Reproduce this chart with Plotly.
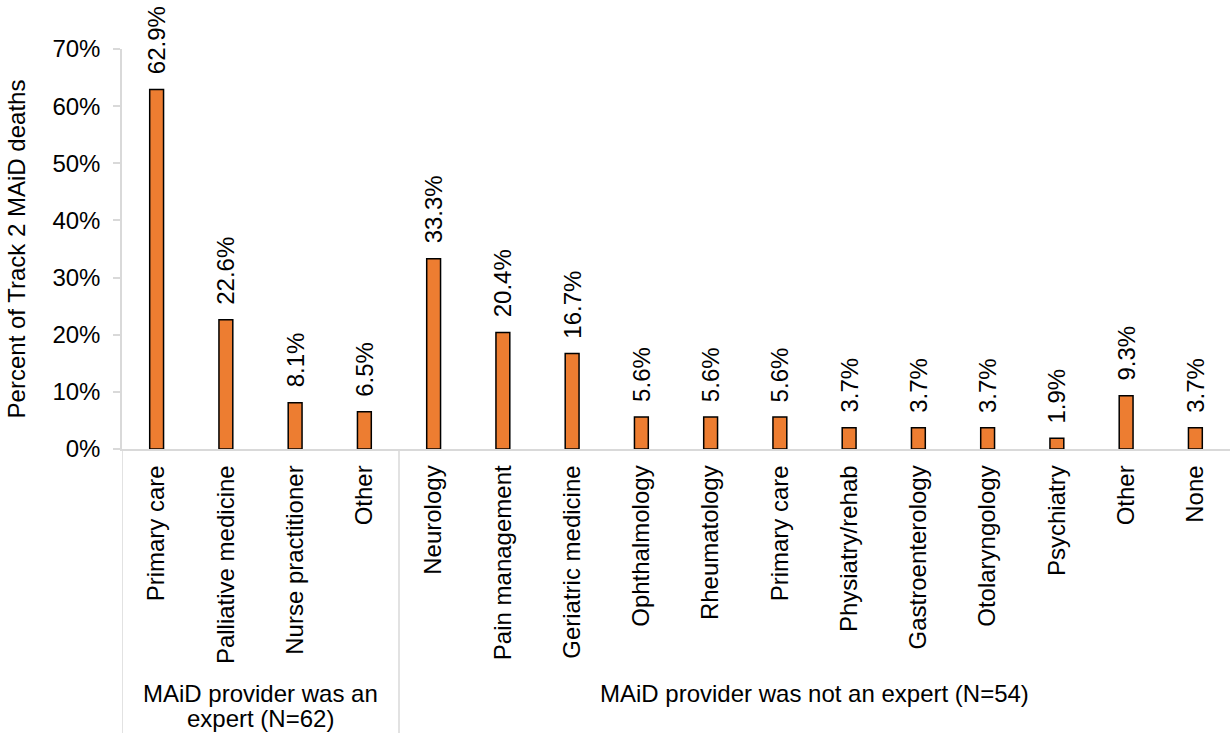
import plotly.graph_objects as go

categories = ["Primary care", "Palliative medicine", "Nurse practitioner", "Other",
              "Neurology", "Pain management", "Geriatric medicine", "Ophthalmology",
              "Rheumatology", "Primary care", "Physiatry/rehab", "Gastroenterology",
              "Otolaryngology", "Psychiatry", "Other", "None"]
values = [62.9, 22.6, 8.1, 6.5, 33.3, 20.4, 16.7, 5.6, 5.6, 5.6, 3.7, 3.7, 3.7, 1.9, 9.3, 3.7]
group_labels = [["MAiD provider was an", "expert (N=62)"], ["MAiD provider was not an expert (N=54)"]]
group_spans = [(0, 3), (4, 15)]
y_ticks = [0, 10, 20, 30, 40, 50, 60, 70]

FONT = "Liberation Sans, Arial, sans-serif"
FS = 24
GRAY = "#d9d9d9"
xs = list(range(len(categories)))

fig = go.Figure()
fig.add_trace(go.Bar(
    x=xs, y=values, width=0.2,
    marker=dict(color="#ED7D31", line=dict(color="black", width=1.5)),
    hoverinfo="skip",
))

for xi, v in zip(xs, values):
    fig.add_annotation(x=xi, y=v, xref="x", yref="y", text=f"{v:.1f}%",
                       textangle=-90, showarrow=False, xanchor="center", yanchor="bottom",
                       yshift=13, font=dict(family=FONT, size=FS, color="black"))

# group labels
line_y = [693, 718]
for (a, b), lines in zip(group_spans, group_labels):
    cx = (a + b) / 2
    for i, t in enumerate(lines):
        fig.add_annotation(x=cx, y=(449 - line_y[i]) / 400, xref="x", yref="paper",
                           text=t, showarrow=False, xanchor="center", yanchor="middle",
                           font=dict(family=FONT, size=FS, color="black"))

# separators
for xb in [-0.5, group_spans[0][1] + 0.5]:
    fig.add_shape(type="line", xref="x", yref="paper", x0=xb, x1=xb, y0=0, y1=-0.72,
                  line=dict(color=GRAY, width=1.5))

fig.update_layout(
    width=1230, height=733,
    margin=dict(l=122, r=0, t=49, b=284),
    plot_bgcolor="white", paper_bgcolor="white",
    showlegend=False,
    font=dict(family=FONT, size=FS, color="black"),
    xaxis=dict(range=[-0.5, len(categories) - 0.5], tickvals=xs, ticktext=categories,
               tickangle=-90, showline=True, linecolor=GRAY, linewidth=1.5,
               showgrid=False, zeroline=False, ticks="", ticklabelstandoff=5,
               tickfont=dict(family=FONT, size=FS, color="black")),
    yaxis=dict(range=[0, 70], tickvals=y_ticks, ticktext=[f"{t}%" for t in y_ticks],
               showline=True, linecolor=GRAY, linewidth=1.5, showgrid=False,
               zeroline=False, ticks="outside", ticklen=7, tickcolor=GRAY, tickwidth=1.5,
               ticklabelstandoff=8,
               title=dict(text="Percent of Track 2 MAiD deaths", standoff=20,
                          font=dict(family=FONT, size=FS, color="black")),
               tickfont=dict(family=FONT, size=FS, color="black")),
)

fig.write_html("out.html")
